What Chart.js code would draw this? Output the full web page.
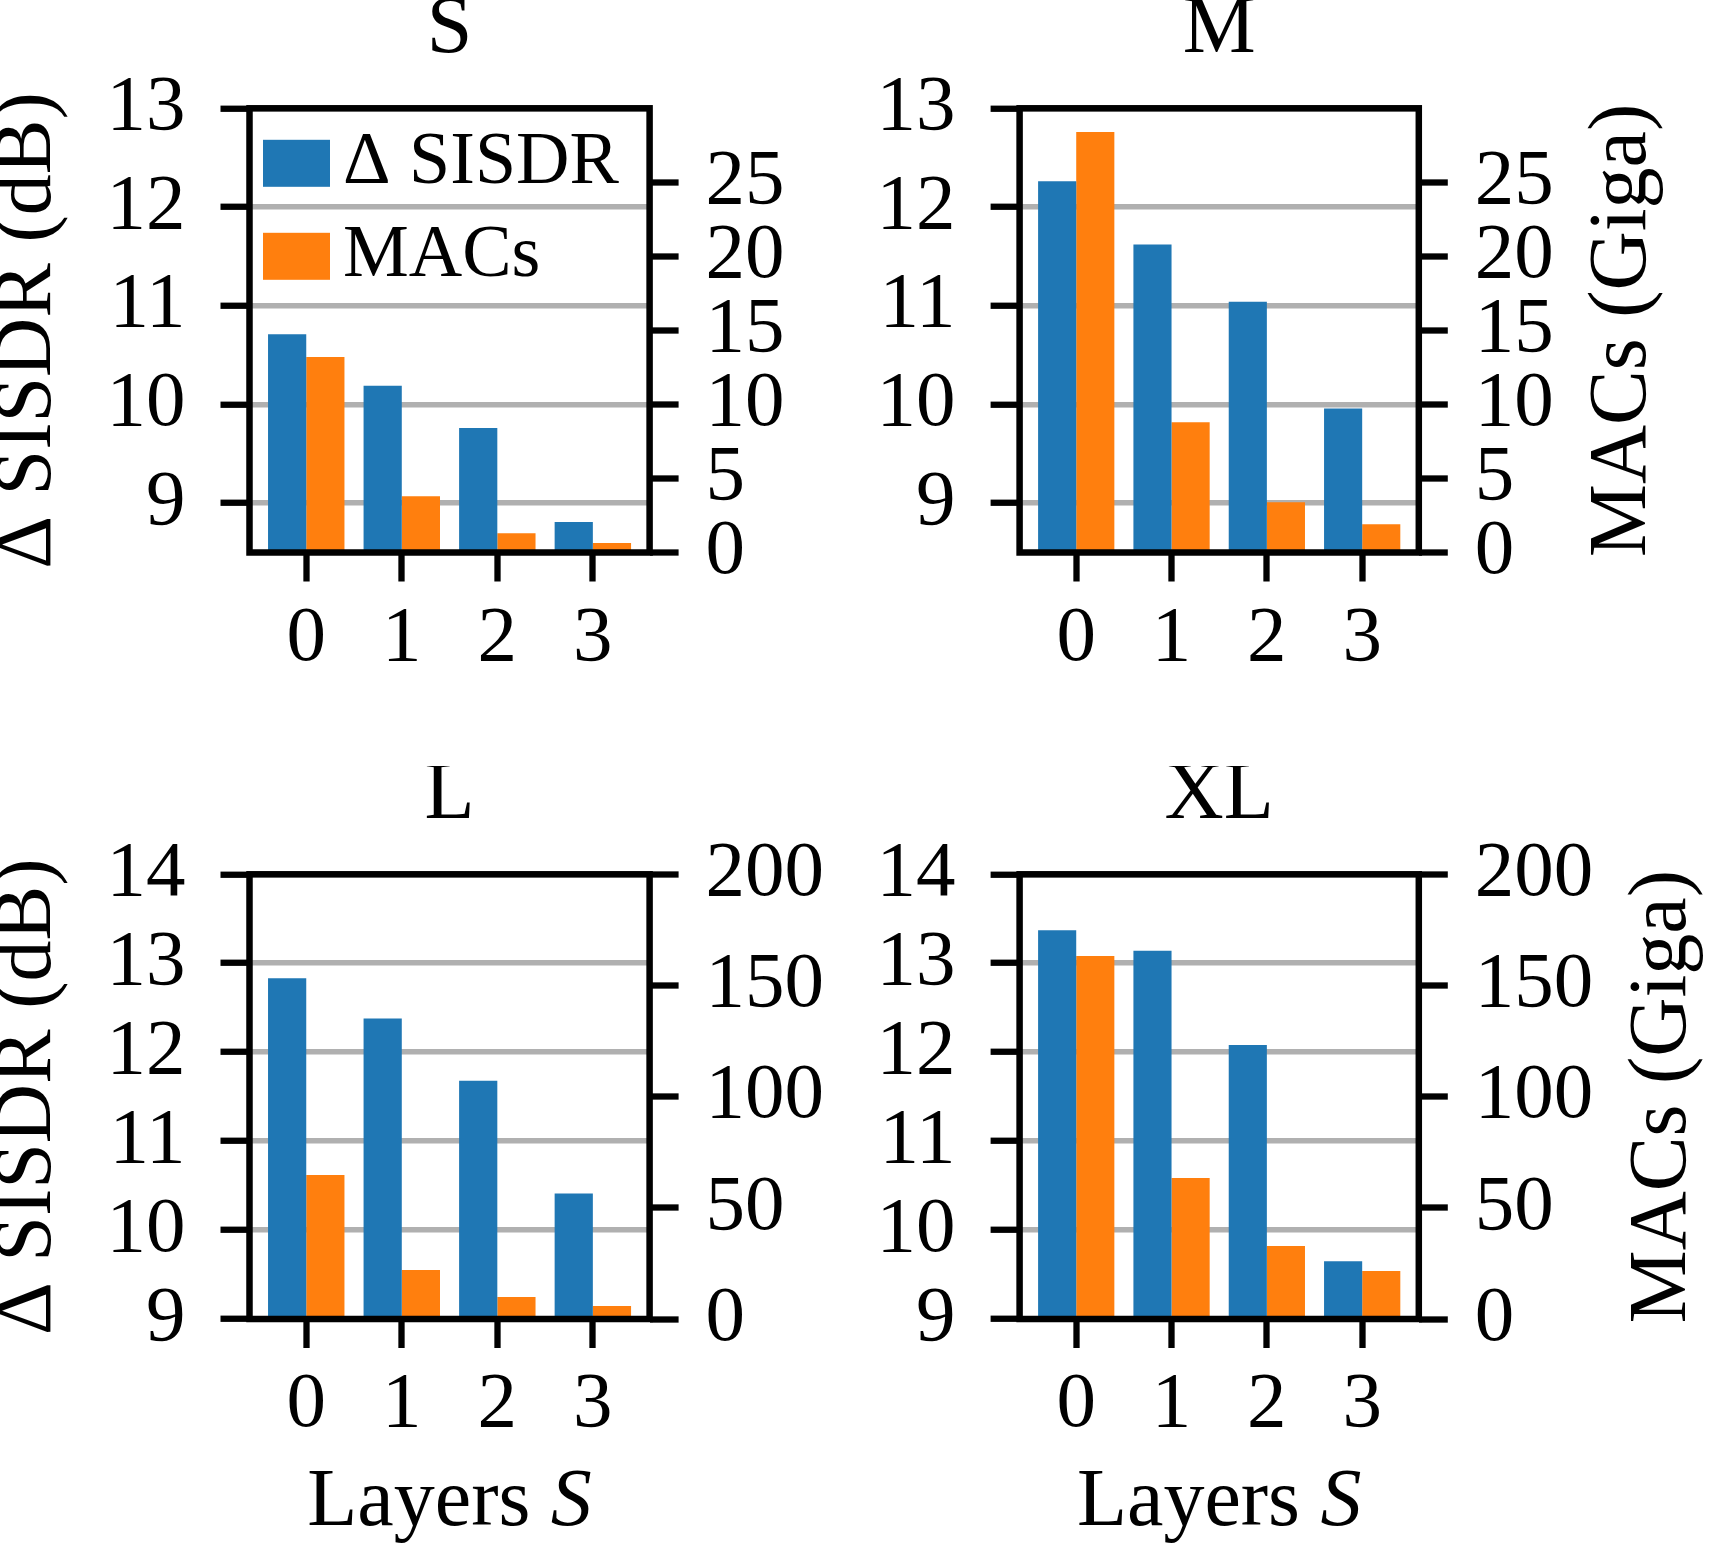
<!DOCTYPE html>
<html>
<head>
<meta charset="utf-8">
<script src="https://cdn.jsdelivr.net/npm/chart.js@4.4.1/dist/chart.umd.min.js"></script>
<style>
  body { margin: 0; background: #fff; }
  #wrap { position: relative; width: 1709px; height: 1544px; }
  canvas { position: absolute; }
</style>
</head>
<body>
<div id="wrap">
  <canvas id="panelS" width="854" height="766" style="left:0px;top:0px"></canvas>
  <canvas id="panelM" width="855" height="766" style="left:854px;top:0px"></canvas>
  <canvas id="panelL" width="854" height="778" style="left:0px;top:766px"></canvas>
  <canvas id="panelXL" width="855" height="778" style="left:854px;top:766px"></canvas>
</div>
<script>

// values
var layers = [0, 1, 2, 3];

var sisdrS = [10.71, 10.19, 9.76, 8.81];
var macsS = [13.2, 3.8, 1.3, 0.65];
var sisdrM = [12.26, 11.62, 11.04, 9.96];
var macsM = [28.4, 8.8, 3.4, 1.9];
var sisdrL = [12.83, 12.38, 11.68, 10.41];
var macsL = [64.8, 22.0, 9.9, 5.8];
var sisdrXL = [13.37, 13.14, 12.08, 9.65];
var macsXL = [163.3, 63.4, 32.8, 21.6];

var sisdrTicksSmall = [9, 10, 11, 12, 13];
var macsTicksSmall = [0, 5, 10, 15, 20, 25];
var sisdrTicksLarge = [9, 10, 11, 12, 13, 14];
var macsTicksLarge = [0, 50, 100, 150, 200];

var sisdrRangeSmall = [8.5, 13];
var macsRangeSmall = [0, 30];
var sisdrRangeLarge = [9, 14];
var macsRangeLarge = [0, 200];
var layerRange = [-0.594, 3.594];

var seriesNames = ["\u0394 SISDR", "MACs"];
var sisdrLabel = "\u0394 SISDR (dB)";
var macsLabel = "MACs (Giga)";
var xLabel = "Layers ";
var xLabelVar = "S";

// style
var BLUE = "#1f77b4";
var ORANGE = "#ff7f0e";
var GRID = "#b0b0b0";
var FONT = "Liberation Serif";
var TICK_SIZE = 79;
var LABEL_SIZE = 82;
var LEGEND_SIZE = 74;
var TICK_LEN = 29;
var TICK_W = 6.3;
var SPINE_W = 6.5;
var RIGHT_PAD = 27;

function toPoints(values) {

  return layers.map(function(l, i) {
    return { x: l, y: values[i] };
  });
}

function fixedTicks(list) {

  return function(axis) {
    axis.ticks = list.map(function(v) { return { value: v }; });
  };
}

function drawLegend(chart, c, a) {

  c.save();
  c.font = LEGEND_SIZE + "px '" + FONT + "'";
  c.textAlign = "left";
  c.textBaseline = "middle";
  for (var i = 0; i < chart.data.datasets.length; i++) {

    var ds = chart.data.datasets[i];
    var cy = a.top + 55 + i * 93;
    c.fillStyle = ds.backgroundColor;
    c.fillRect(a.left + 13.5, cy - 23.5, 67, 47);
    c.fillStyle = "#000";
    c.fillText(ds.label, a.left + 93.5, cy);
  }
  c.restore();
}

function drawRightLabel(chart, c, a) {

  c.save();
  c.font = TICK_SIZE + "px '" + FONT + "'";
  var widest = 0;
  chart.scales.y1.ticks.forEach(function(t) {
    widest = Math.max(widest, c.measureText(String(t.label)).width);
  });
  var x = a.right + TICK_LEN + RIGHT_PAD + widest + 43 + 27;
  c.font = LABEL_SIZE + "px '" + FONT + "'";
  c.fillStyle = "#000";
  c.translate(x, (a.top + a.bottom) / 2);
  c.rotate(-Math.PI / 2);
  c.textAlign = "center";
  c.textBaseline = "middle";
  c.fillText(macsLabel, 0, 0);
  c.restore();
}

function drawXLabel(c, a) {

  c.save();
  var regular = LABEL_SIZE + "px '" + FONT + "'";
  var italic = "italic " + regular;
  c.font = regular;
  var w1 = c.measureText(xLabel).width;
  c.font = italic;
  var w2 = c.measureText(xLabelVar).width;
  var x0 = (a.left + a.right) / 2 - (w1 + w2) / 2;
  var y = a.bottom + 184;
  c.fillStyle = "#000";
  c.textAlign = "left";
  c.textBaseline = "middle";
  c.font = regular;
  c.fillText(xLabel, x0, y);
  c.font = italic;
  c.fillText(xLabelVar, x0 + w1, y);
  c.restore();
}

function framePlugin(p) {

  return {
    id: "frame",
    afterDatasetsDraw: function(chart) {

      var c = chart.ctx;
      var a = chart.chartArea;
      c.save();
      c.lineWidth = SPINE_W;
      c.strokeStyle = "#000";
      c.strokeRect(a.left, a.top, a.right - a.left, a.bottom - a.top);
      c.restore();

      if (p.legend) drawLegend(chart, c, a);
      if (p.rightLabel) drawRightLabel(chart, c, a);
      if (p.xLabel) drawXLabel(c, a);
    }
  };
}

function makePanel(id, p) {

  var ctx = document.getElementById(id).getContext("2d");
  var tickFont = { family: FONT, size: TICK_SIZE, lineHeight: 1.2 };

  return new Chart(ctx, {

    type: "bar",

    data: {
      datasets: [{
        label: seriesNames[0],
        data: toPoints(p.sisdr),
        backgroundColor: BLUE,
        yAxisID: "y",
        categoryPercentage: 0.8,
        barPercentage: 1.0
      }, {
        label: seriesNames[1],
        data: toPoints(p.macs),
        backgroundColor: ORANGE,
        yAxisID: "y1",
        categoryPercentage: 0.8,
        barPercentage: 1.0
      }]
    },

    options: {
      responsive: false,
      animation: false,
      devicePixelRatio: 1,
      events: [],
      layout: { padding: 0 },
      plugins: {
        legend: { display: false },
        tooltip: { enabled: false },
        title: {
          display: true,
          text: p.title,
          fullSize: false,
          color: "#000",
          font: { family: FONT, size: LABEL_SIZE, weight: "normal", lineHeight: 0.7 },
          padding: { top: 2, bottom: 48.9 }
        }
      },
      scales: {
        x: {
          type: "linear",
          position: "bottom",
          min: layerRange[0],
          max: layerRange[1],
          bounds: "data",
          offset: false,
          afterBuildTicks: fixedTicks(layers),
          afterFit: function(axis) { axis.height = p.bottomH; },
          grid: { offset: false, drawOnChartArea: false, drawTicks: true, tickLength: TICK_LEN, tickWidth: TICK_W, tickColor: "#000" },
          border: { display: false },
          ticks: { color: "#000", padding: 10, maxRotation: 0, autoSkip: false, font: tickFont }
        },
        y: {
          type: "linear",
          position: "left",
          min: p.sisdrRange[0],
          max: p.sisdrRange[1],
          bounds: "data",
          beginAtZero: false,
          afterBuildTicks: fixedTicks(p.sisdrTicks),
          afterFit: function(axis) { axis.width = p.leftW; },
          grid: { color: GRID, lineWidth: 5.5, drawTicks: true, tickLength: TICK_LEN, tickWidth: TICK_W, tickColor: "#000" },
          border: { display: false },
          ticks: { color: "#000", padding: 35, autoSkip: false, font: tickFont },
          title: {
            display: p.leftLabel,
            text: sisdrLabel,
            color: "#000",
            font: { family: FONT, size: LABEL_SIZE, lineHeight: 0.7 },
            padding: 0
          }
        },
        y1: {
          type: "linear",
          position: "right",
          min: p.macsRange[0],
          max: p.macsRange[1],
          bounds: "data",
          beginAtZero: false,
          afterBuildTicks: fixedTicks(p.macsTicks),
          afterFit: function(axis) { axis.width = p.rightW; },
          grid: { drawOnChartArea: false, drawTicks: true, tickLength: TICK_LEN, tickWidth: TICK_W, tickColor: "#000" },
          border: { display: false },
          ticks: { color: "#000", padding: RIGHT_PAD, autoSkip: false, font: tickFont }
        }
      }
    },

    plugins: [framePlugin(p)]
  });
}

function init() {

  makePanel("panelS", {
    title: "S", sisdr: sisdrS, macs: macsS,
    sisdrTicks: sisdrTicksSmall, macsTicks: macsTicksSmall,
    sisdrRange: sisdrRangeSmall, macsRange: macsRangeSmall,
    leftW: 249.5, rightW: 204.4, bottomH: 213.5,
    leftLabel: true, rightLabel: false, xLabel: false, legend: true
  });

  makePanel("panelM", {
    title: "M", sisdr: sisdrM, macs: macsM,
    sisdrTicks: sisdrTicksSmall, macsTicks: macsTicksSmall,
    sisdrRange: sisdrRangeSmall, macsRange: macsRangeSmall,
    leftW: 165.6, rightW: 290.2, bottomH: 213.5,
    leftLabel: false, rightLabel: true, xLabel: false, legend: false
  });

  makePanel("panelL", {
    title: "L", sisdr: sisdrL, macs: macsL,
    sisdrTicks: sisdrTicksLarge, macsTicks: macsTicksLarge,
    sisdrRange: sisdrRangeLarge, macsRange: macsRangeLarge,
    leftW: 249.5, rightW: 204.4, bottomH: 225,
    leftLabel: true, rightLabel: false, xLabel: true, legend: false
  });

  makePanel("panelXL", {
    title: "XL", sisdr: sisdrXL, macs: macsXL,
    sisdrTicks: sisdrTicksLarge, macsTicks: macsTicksLarge,
    sisdrRange: sisdrRangeLarge, macsRange: macsRangeLarge,
    leftW: 165.6, rightW: 290.2, bottomH: 225,
    leftLabel: false, rightLabel: true, xLabel: true, legend: false
  });
}

init();
</script>
</body>
</html>
